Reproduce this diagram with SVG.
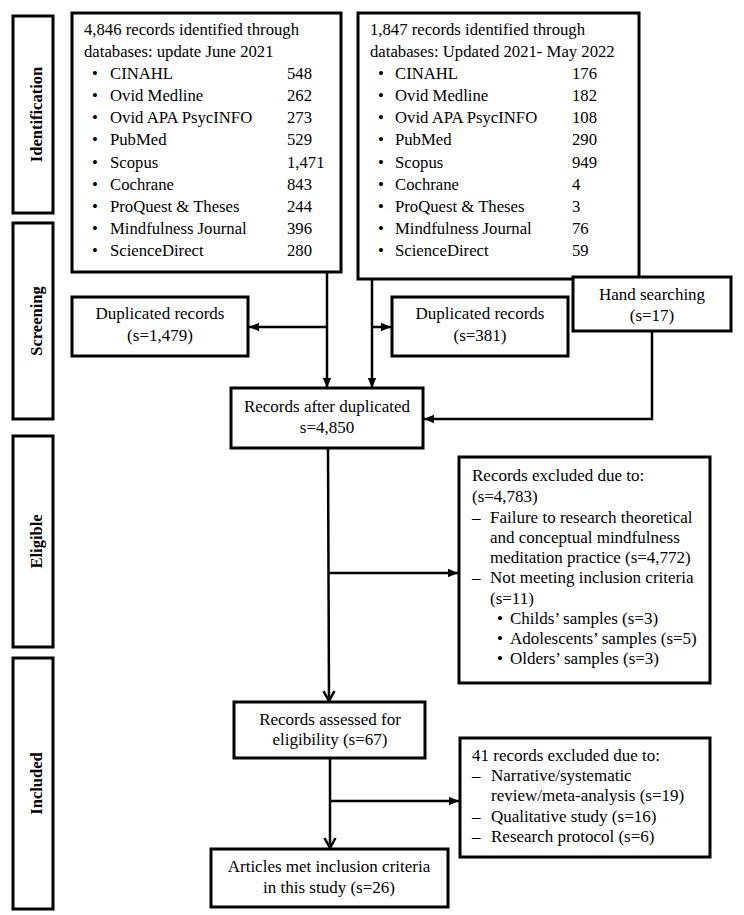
<svg xmlns="http://www.w3.org/2000/svg" width="744" height="915" viewBox="0 0 744 915">
<style>
.box{fill:#fff;stroke:#000;stroke-width:3}
.t{font-family:"Liberation Serif","Times New Roman",serif;font-size:17px;fill:#000}
.tt{font-size:16.7px}
.c{text-anchor:middle}
.ph{font-family:"Liberation Serif","Times New Roman",serif;font-size:16.5px;font-weight:bold;text-anchor:middle;fill:#000}
.ln{fill:none;stroke:#000;stroke-width:2.5}
</style>
<defs>
<marker id="fa" markerUnits="userSpaceOnUse" markerWidth="12" markerHeight="10" refX="10" refY="5" orient="auto">
<path d="M0,0.8 L10,5 L0,9.2 Z" fill="#000"/>
</marker>
<marker id="oa" markerUnits="userSpaceOnUse" markerWidth="14" markerHeight="14" refX="11" refY="7" orient="auto">
<path d="M1,1.5 L11,7 L1,12.5" fill="none" stroke="#000" stroke-width="2.5"/>
</marker>
</defs>

<g id="phase-identification"><rect class="box" x="13" y="16" width="40" height="197"/><text class="ph" transform="translate(42,114.5) rotate(-90)">Identification</text></g>
<g id="phase-screening"><rect class="box" x="13" y="223" width="40" height="196"/><text class="ph" transform="translate(42,321) rotate(-90)">Screening</text></g>
<g id="phase-eligible"><rect class="box" x="13" y="436" width="40" height="211"/><text class="ph" transform="translate(42,541.5) rotate(-90)">Eligible</text></g>
<g id="phase-included"><rect class="box" x="13" y="658" width="40" height="251"/><text class="ph" transform="translate(42,783.5) rotate(-90)">Included</text></g>

<g id="connectors">
<line class="ln" x1="327" y1="272" x2="327" y2="388" marker-end="url(#fa)"/>
<line class="ln" x1="327" y1="327" x2="249" y2="327" marker-end="url(#fa)"/>
<line class="ln" x1="372" y1="279" x2="372" y2="388" marker-end="url(#fa)"/>
<line class="ln" x1="372" y1="327" x2="391" y2="327" marker-end="url(#fa)"/>
<polyline class="ln" points="652,331 652,419 424,419" marker-end="url(#fa)"/>
<line class="ln" x1="328" y1="448" x2="329" y2="701" marker-end="url(#oa)"/>
<line class="ln" x1="328" y1="573" x2="458" y2="573" marker-end="url(#fa)"/>
<line class="ln" x1="330" y1="758" x2="330" y2="848" marker-end="url(#oa)"/>
<line class="ln" x1="330" y1="801" x2="459" y2="801" marker-end="url(#fa)"/>
</g>

<g id="db-2021">
<rect class="box" x="72" y="13" width="269" height="259"/>
<g class="t tt">
<text x="84" y="35">4,846 records identified through</text>
<text x="84" y="57">databases: update June 2021</text>
<text x="92" y="79">•</text><text x="110" y="79">CINAHL</text><text x="287" y="79">548</text>
<text x="92" y="101">•</text><text x="110" y="101">Ovid Medline</text><text x="287" y="101">262</text>
<text x="92" y="123">•</text><text x="110" y="123">Ovid APA PsycINFO</text><text x="287" y="123">273</text>
<text x="92" y="145">•</text><text x="110" y="145">PubMed</text><text x="287" y="145">529</text>
<text x="92" y="168">•</text><text x="110" y="168">Scopus</text><text x="287" y="168">1,471</text>
<text x="92" y="190">•</text><text x="110" y="190">Cochrane</text><text x="287" y="190">843</text>
<text x="92" y="212">•</text><text x="110" y="212">ProQuest &amp; Theses</text><text x="287" y="212">244</text>
<text x="92" y="234">•</text><text x="110" y="234">Mindfulness Journal</text><text x="287" y="234">396</text>
<text x="92" y="256">•</text><text x="110" y="256">ScienceDirect</text><text x="287" y="256">280</text>
</g>
</g>

<g id="db-2022">
<rect class="box" x="358" y="13" width="281" height="266"/>
<g class="t tt">
<text x="370" y="35">1,847 records identified through</text>
<text x="370" y="57">databases: Updated 2021- May 2022</text>
<text x="378" y="79">•</text><text x="395" y="79">CINAHL</text><text x="572" y="79">176</text>
<text x="378" y="101">•</text><text x="395" y="101">Ovid Medline</text><text x="572" y="101">182</text>
<text x="378" y="123">•</text><text x="395" y="123">Ovid APA PsycINFO</text><text x="572" y="123">108</text>
<text x="378" y="145">•</text><text x="395" y="145">PubMed</text><text x="572" y="145">290</text>
<text x="378" y="168">•</text><text x="395" y="168">Scopus</text><text x="572" y="168">949</text>
<text x="378" y="190">•</text><text x="395" y="190">Cochrane</text><text x="572" y="190">4</text>
<text x="378" y="212">•</text><text x="395" y="212">ProQuest &amp; Theses</text><text x="572" y="212">3</text>
<text x="378" y="234">•</text><text x="395" y="234">Mindfulness Journal</text><text x="572" y="234">76</text>
<text x="378" y="256">•</text><text x="395" y="256">ScienceDirect</text><text x="572" y="256">59</text>
</g>
</g>

<g id="dup-1479">
<rect class="box" x="72" y="297" width="176" height="59"/>
<text class="t c" x="160" y="319">Duplicated records</text>
<text class="t c" x="160" y="341">(s=1,479)</text>
</g>

<g id="dup-381">
<rect class="box" x="392" y="297" width="176" height="59"/>
<text class="t c" x="480" y="319">Duplicated records</text>
<text class="t c" x="480" y="341">(s=381)</text>
</g>

<g id="hand-searching">
<rect class="box" x="573" y="277" width="158" height="54"/>
<text class="t c" x="652" y="300">Hand searching</text>
<text class="t c" x="652" y="321">(s=17)</text>
</g>

<g id="after-dup">
<rect class="box" x="231" y="388" width="192" height="60"/>
<text class="t c" x="327" y="412">Records after duplicated</text>
<text class="t c" x="327" y="433">s=4,850</text>
</g>

<g id="excluded-4783">
<rect class="box" x="459" y="457" width="251" height="226"/>
<g class="t">
<text x="472" y="481">Records excluded due to:</text>
<text x="472" y="502">(s=4,783)</text>
<text x="472" y="523">–</text><text x="490" y="523">Failure to research theoretical</text>
<text x="490" y="543">and conceptual mindfulness</text>
<text x="490" y="563">meditation practice (s=4,772)</text>
<text x="472" y="583">–</text><text x="490" y="583">Not meeting inclusion criteria</text>
<text x="490" y="604">(s=11)</text>
<text x="497" y="624">•</text><text x="510" y="624">Childs’ samples (s=3)</text>
<text x="497" y="644">•</text><text x="510" y="644">Adolescents’ samples (s=5)</text>
<text x="497" y="664">•</text><text x="510" y="664">Olders’ samples (s=3)</text>
</g>
</g>

<g id="assessed">
<rect class="box" x="234" y="702" width="191" height="56"/>
<text class="t c" x="330" y="725">Records assessed for</text>
<text class="t c" x="330" y="745">eligibility (s=67)</text>
</g>

<g id="excluded-41">
<rect class="box" x="460" y="738" width="250" height="119"/>
<g class="t">
<text x="472" y="761">41 records excluded due to:</text>
<text x="472" y="781">–</text><text x="491" y="781">Narrative/systematic</text>
<text x="491" y="801">review/meta-analysis (s=19)</text>
<text x="472" y="822">–</text><text x="491" y="822">Qualitative study (s=16)</text>
<text x="472" y="842">–</text><text x="491" y="842">Research protocol (s=6)</text>
</g>
</g>

<g id="included-final">
<rect class="box" x="211" y="849" width="237" height="58"/>
<text class="t c" x="329" y="872">Articles met inclusion criteria</text>
<text class="t c" x="329" y="893">in this study (s=26)</text>
</g>
</svg>
